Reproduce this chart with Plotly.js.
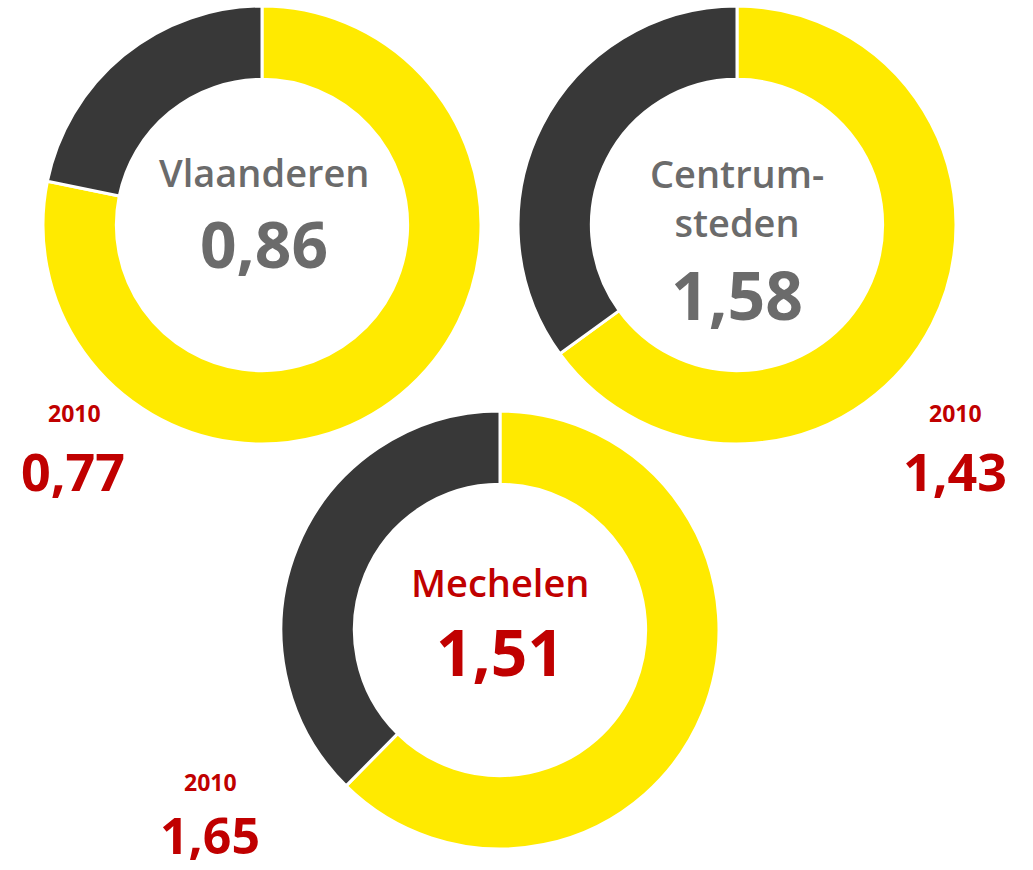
<!DOCTYPE html>
<html>
<head>
<meta charset="utf-8">
<script src="https://cdn.plot.ly/plotly-3.0.1.min.js"></script>
<style>
html,body{margin:0;padding:0;background:#fff;}
#chart{width:1033px;height:870px;}
</style>
</head>
<body>
<div id="chart"></div>
<script>
// Data
var regions = ['Vlaanderen', 'Centrum-steden', 'Mechelen'];
var regionLabels = ['Vlaanderen', 'Centrum-<br>steden', 'Mechelen'];
var currentValues = ['0,86', '1,58', '1,51'];
var values2010 = ['0,77', '1,43', '1,65'];
var yearLabel = '2010';
var darkShare = [21.8, 35.0, 37.6];
var yellowShare = [78.2, 65.0, 62.4];

var W = 1033, H = 870;
var YELLOW = '#ffea00', DARK = '#383838', GREY = '#6b6b6b', RED = '#c00000';
var FONT = 'Open Sans, Noto Sans, sans-serif';

// donut geometry in pixels (center x, center y, radius)
var geo = [[262, 225, 219], [737, 225, 219], [500, 630, 219]];

function px(x) { return x / W; }
function py(y) { return 1 - y / H; }

var traces = regions.map(function (r, i) {
  var g = geo[i];
  return {
    type: 'pie',
    name: r,
    labels: ['yellow', 'dark'],
    values: [yellowShare[i], darkShare[i]],
    sort: false,
    direction: 'clockwise',
    rotation: 0,
    hole: 0.665,
    textinfo: 'none',
    hoverinfo: 'none',
    showlegend: false,
    marker: { colors: [YELLOW, DARK], line: { color: '#ffffff', width: 3 } },
    domain: { x: [px(g[0] - g[2]), px(g[0] + g[2])], y: [py(g[1] + g[2]), py(g[1] - g[2])] }
  };
});

var ann = [];
function add(text, x, y, size, color, weight) {
  ann.push({ text: text, x: px(x), y: py(y), xref: 'paper', yref: 'paper',
    xanchor: 'center', yanchor: 'middle', showarrow: false,
    font: { family: FONT, size: size, color: color, weight: weight || 600 } });
}
// centre labels
add(regionLabels[0], 264, 172, 38, GREY, 600);
add(currentValues[0], 264, 243, 64, GREY, 700);
add(regionLabels[1], 737, 197, 38, GREY, 600);
add(currentValues[1], 737, 294, 66, GREY, 700);
add(regionLabels[2], 500, 582, 38, RED, 600);
add(currentValues[2], 500, 651, 64, RED, 700);
// 2010 labels
add(yearLabel, 74, 413, 23, RED, 700);
add(values2010[0], 73, 470, 52, RED, 700);
add(yearLabel, 955, 413, 23, RED, 700);
add(values2010[1], 955, 470, 52, RED, 700);
add(yearLabel, 210, 782, 23, RED, 700);
add(values2010[2], 210, 835, 50, RED, 700);

var layout = {
  width: W, height: H,
  margin: { l: 0, r: 0, t: 0, b: 0 },
  paper_bgcolor: '#ffffff', plot_bgcolor: '#ffffff',
  annotations: ann,
  showlegend: false
};
Plotly.newPlot('chart', traces, layout, { displayModeBar: false, staticPlot: true });
</script>
</body>
</html>
